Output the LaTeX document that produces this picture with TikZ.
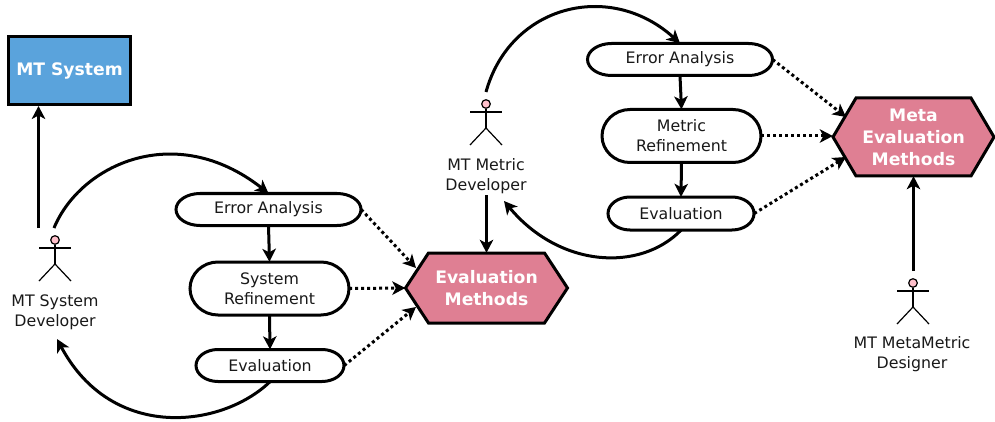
\documentclass[tikz,border=0pt]{standalone}
\usepackage{fontspec}
\setmainfont{DejaVu Sans}
\usetikzlibrary{arrows.meta,calc}
\definecolor{sysblue}{HTML}{5AA3DC}
\definecolor{methpink}{HTML}{DF7F93}
\definecolor{headpink}{HTML}{FFC0CB}
\tikzset{
  x=1pt,y=-1pt,
  every node/.style={font=\fontsize{15.8}{20}\selectfont,text=black!90},
  flow/.style={line width=3pt,draw=black,-{Stealth[length=13pt,width=13.5pt,inset=3.5pt]}},
  influence/.style={line width=3pt,dash pattern=on 3pt off 3pt,draw=black,-{Stealth[length=13pt,width=13.5pt,inset=3.5pt]}},
  activity/.style={rectangle,inner sep=0pt,align=center},
  method/.style={rectangle,inner sep=0pt,align=center,text=white,font=\fontsize{17.2}{22}\selectfont\bfseries},
  figure/.style={line width=1.2pt,draw=black},
  head/.style={circle,draw=black,line width=1.2pt,fill=headpink,minimum size=8.6pt,inner sep=0pt},
  actorlabel/.style={align=center},
  outline/.style={line width=3pt,draw=black}
}
\newcommand{\stickman}[3]{%
  \node[head] (#3) at (#1,#2) {};
  \draw[figure] (#3.south) -- (#1,#2+24) coordinate (#3hip);
  \draw[figure] (#1-16,#2+8) -- (#1+16,#2+8);
  \draw[figure] (#1-16,#2+41) -- (#3hip) -- (#1+16,#2+41);
}
% centre x, centre y, half width, half height, chamfer, name, text
\newcommand{\hexa}[7]{%
  \draw[outline,fill=methpink,line join=miter]
    (#1-#3,#2) -- (#1-#3+#5,#2-#4) -- (#1+#3-#5,#2-#4) -- (#1+#3,#2)
    -- (#1+#3-#5,#2+#4) -- (#1-#3+#5,#2+#4) -- cycle;
  \node[method,minimum width=2*#3*1pt,minimum height=2*#4*1pt] (#6) at (#1,#2) {#7};
}
% centre x, centre y, half width, half height, end radius, name, text
\newcommand{\pill}[7]{%
  \draw[outline,fill=white]
    (#1-#3+#5,#2-#4) -- (#1+#3-#5,#2-#4)
    .. controls (#1+#3-0.45*#5,#2-#4) and (#1+#3,#2-0.55*#4) .. (#1+#3,#2)
    .. controls (#1+#3,#2+0.55*#4) and (#1+#3-0.45*#5,#2+#4) .. (#1+#3-#5,#2+#4)
    -- (#1-#3+#5,#2+#4)
    .. controls (#1-#3+0.45*#5,#2+#4) and (#1-#3,#2+0.55*#4) .. (#1-#3,#2)
    .. controls (#1-#3,#2-0.55*#4) and (#1-#3+0.45*#5,#2-#4) .. (#1-#3+#5,#2-#4) -- cycle;
  \node[activity,minimum width=2*#3*1pt,minimum height=2*#4*1pt] (#6) at (#1,#2) {#7};
}
\begin{document}
\begin{tikzpicture}
\useasboundingbox (0,0) rectangle (995,422);
% system box
\node[draw=black,line width=3pt,fill=sysblue,minimum width=122pt,minimum height=68pt,inner sep=0pt,text=white,font=\fontsize{17.2}{20}\selectfont\bfseries] (mtsys) at (69.5,70.5) {MT System};
% left cycle
\pill{268.5}{209.5}{92.5}{16}{24}{ea1}{\raisebox{-1pt}{Error Analysis}}
\pill{269.5}{288.5}{79.5}{26.5}{28}{sr1}{System\\Refinement}
\pill{270}{365.5}{74}{16}{22}{ev1}{Evaluation}
\hexa{486.5}{288}{81}{35}{23}{em}{Evaluation\\Methods}
% right cycle
\pill{680}{59.5}{92.5}{16}{24}{ea2}{\raisebox{-1pt}{Error Analysis}}
\pill{681.5}{136}{79.5}{26.5}{28}{mr2}{Metric\\Refinement}
\pill{681}{213.5}{73}{16.5}{22}{ev2}{Evaluation}
\hexa{913.5}{137}{80.5}{39}{23}{mm}{Meta\\Evaluation\\Methods}
% actors
\stickman{55}{240}{act1}
\stickman{486}{104}{act2}
\stickman{913}{283}{act3}
\node[actorlabel] (lab1) at (55,312) {MT System\\Developer};
\node[actorlabel] (lab2) at (486,176) {MT Metric\\Developer};
\node[actorlabel] (lab3) at (912,354) {MT MetaMetric\\Designer};
% free ends
\coordinate (a1top) at (54,228);
\coordinate (a1up) at (38.5,228);
\coordinate (a1in) at (57,339);
\coordinate (a2top) at (486,92);
\coordinate (a2down) at (486.5,195);
\coordinate (a2in) at (504,201);
\coordinate (a3up) at (913.5,271);
% connectors
\draw[flow] (a1up) -- (mtsys.south -| a1up);
\draw[flow] (a1top) .. controls (80,165) and (175,120) .. (ea1.north);
\draw[flow] (ea1.south) -- (sr1.north);
\draw[flow] (sr1.south) -- (ev1.north);
\draw[flow] (ev1.south) .. controls (222,428) and (112,442) .. (a1in);
\draw[flow] (a2top) .. controls (510,5) and (610,-20) .. (ea2.north);
\draw[flow] (ea2.south) -- (mr2.north);
\draw[flow] (mr2.south) -- (ev2.north);
\draw[flow] (ev2.south) .. controls (640,272) and (560,268) .. (a2in);
\draw[flow] (a2down) -- (em.north);
\draw[flow] (a3up) -- (mm.south -| a3up);
% dotted
\draw[influence] (ea1.east) -- (416,268);
\draw[influence] (sr1.east) -- (em.west);
\draw[influence] (ev1.east) -- (416,307);
\draw[influence] (ea2.east) -- (846,117);
\draw[influence] (mr2.east) -- (mm.west |- mr2.east);
\draw[influence] (ev2.east) -- (846,157);
\end{tikzpicture}
\end{document}
